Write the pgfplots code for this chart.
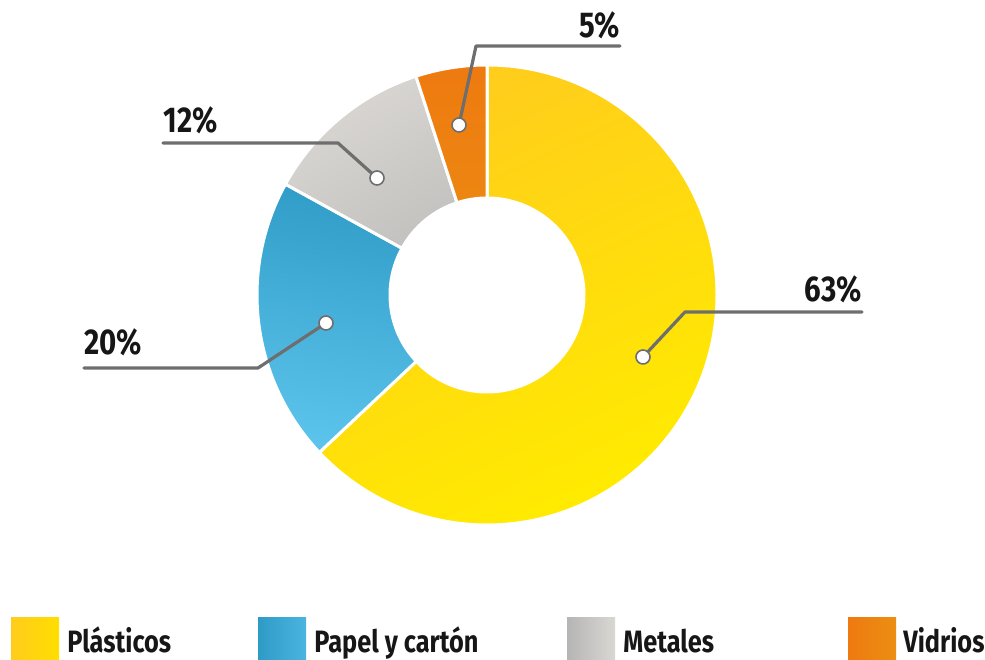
\documentclass[border=0pt]{standalone}
\usepackage{fontspec}
\setmainfont{Fira Sans}[FakeStretch=0.82]
\usepackage{pgfplots}
\usepackage{pgfplotstable}
\pgfplotsset{compat=1.18}

\definecolor{plaA}{HTML}{FFCC1C}
\definecolor{plaB}{HTML}{FFEB00}
\definecolor{plaL}{HTML}{FFDE00}
\definecolor{papA}{HTML}{2E9BC6}
\definecolor{papB}{HTML}{5CC4EC}
\definecolor{papL}{HTML}{4BB4E0}
\definecolor{metA}{HTML}{DAD7D3}
\definecolor{metB}{HTML}{BDBCBA}
\definecolor{metL}{HTML}{B5B5B5}
\definecolor{vidA}{HTML}{EE7A10}
\definecolor{vidB}{HTML}{EC8E12}
\definecolor{leader}{HTML}{6E6E6E}
\definecolor{ink}{HTML}{161616}

% share of each material (%)
\pgfplotstableread{
name value
Plasticos 63
Papel 20
Metales 12
Vidrios 5
}\datatable

\begin{document}
\begin{tikzpicture}[font=\fontsize{15.5}{18}\selectfont\bfseries, text=ink]
% slice angles, clockwise from 12 o'clock
\pgfplotstablegetelem{0}{value}\of\datatable \let\vA\pgfplotsretval
\pgfplotstablegetelem{1}{value}\of\datatable \let\vB\pgfplotsretval
\pgfplotstablegetelem{2}{value}\of\datatable \let\vC\pgfplotsretval
\pgfplotstablegetelem{3}{value}\of\datatable \let\vD\pgfplotsretval
\pgfmathsetmacro\aA{90}
\pgfmathsetmacro\aB{\aA-3.6*\vA}
\pgfmathsetmacro\aC{\aB-3.6*\vB}
\pgfmathsetmacro\aD{\aC-3.6*\vC}
\pgfmathsetmacro\aE{\aD-3.6*\vD}
\def\ro{115bp}
\def\ri{48.5bp}
\def\slice#1#2#3{%
  \path[#3, draw=white, line width=1.5bp]
    (axis cs:487,365) ++(#1:\ro) arc[start angle=#1, end angle=#2, radius=\ro]
    -- ++(#2+180:66.5bp) arc[start angle=#2, end angle=#1, radius=\ri] -- cycle;}
\tikzset{lead/.style={leader, line width=1.6bp, line cap=round, line join=round},
         dot/.style={draw=leader, fill=white, line width=0.8bp},
         pct/.style={inner sep=0, font=\fontsize{18}{20}\selectfont\bfseries}}
\begin{axis}[
  width=492.5bp, height=330bp,
  scale only axis,
  hide axis,
  xmin=0, xmax=985, ymin=0, ymax=660,
  clip=false,
]
\slice{\aA}{\aB}{top color=plaA, bottom color=plaB, shading angle=25}
\slice{\aB}{\aC}{top color=papA, bottom color=papB, shading angle=-10}
\slice{\aC}{\aD}{top color=metA, bottom color=metB, shading angle=30}
\slice{\aD}{\aE}{top color=vidA, bottom color=vidB, shading angle=0}

% leader lines
\draw[lead] (axis cs:643,303) -- (axis cs:685,348) -- (axis cs:862,348);
\draw[lead] (axis cs:326,337) -- (axis cs:258,292) -- (axis cs:84,292);
\draw[lead] (axis cs:377,482) -- (axis cs:338,517) -- (axis cs:163,517);
\draw[lead] (axis cs:459,535) -- (axis cs:476,614) -- (axis cs:620,614);
\path[dot] (axis cs:643,303) circle[radius=3.5bp];
\path[dot] (axis cs:326,337) circle[radius=3.5bp];
\path[dot] (axis cs:377,482) circle[radius=3.5bp];
\path[dot] (axis cs:459,535) circle[radius=3.5bp];
\node[pct, anchor=base east] at (axis cs:862,358) {\vA\%};
\node[pct, anchor=base west] at (axis cs:84,305) {\vB\%};
\node[pct, anchor=base west] at (axis cs:163,527) {\vC\%};
\node[pct, anchor=base east] at (axis cs:620,622) {\vD\%};

% legend
\shade[left color=plaA, right color=plaL] (axis cs:11,0) rectangle (axis cs:59,42);
\shade[left color=papA, right color=papL] (axis cs:258,0) rectangle (axis cs:306,42);
\shade[left color=metL, right color=metA] (axis cs:567,0) rectangle (axis cs:615,42);
\shade[left color=vidA, right color=vidB] (axis cs:848,0) rectangle (axis cs:896,42);
\node[anchor=base west, inner sep=0] at (axis cs:67,7) {Plásticos};
\node[anchor=base west, inner sep=0] at (axis cs:314,7) {Papel y cartón};
\node[anchor=base west, inner sep=0] at (axis cs:623,7) {Metales};
\node[anchor=base west, inner sep=0] at (axis cs:903,7) {Vidrios};
\end{axis}
\pgfresetboundingbox
\useasboundingbox (current axis.south west) rectangle (current axis.north east);
\end{tikzpicture}
\end{document}
